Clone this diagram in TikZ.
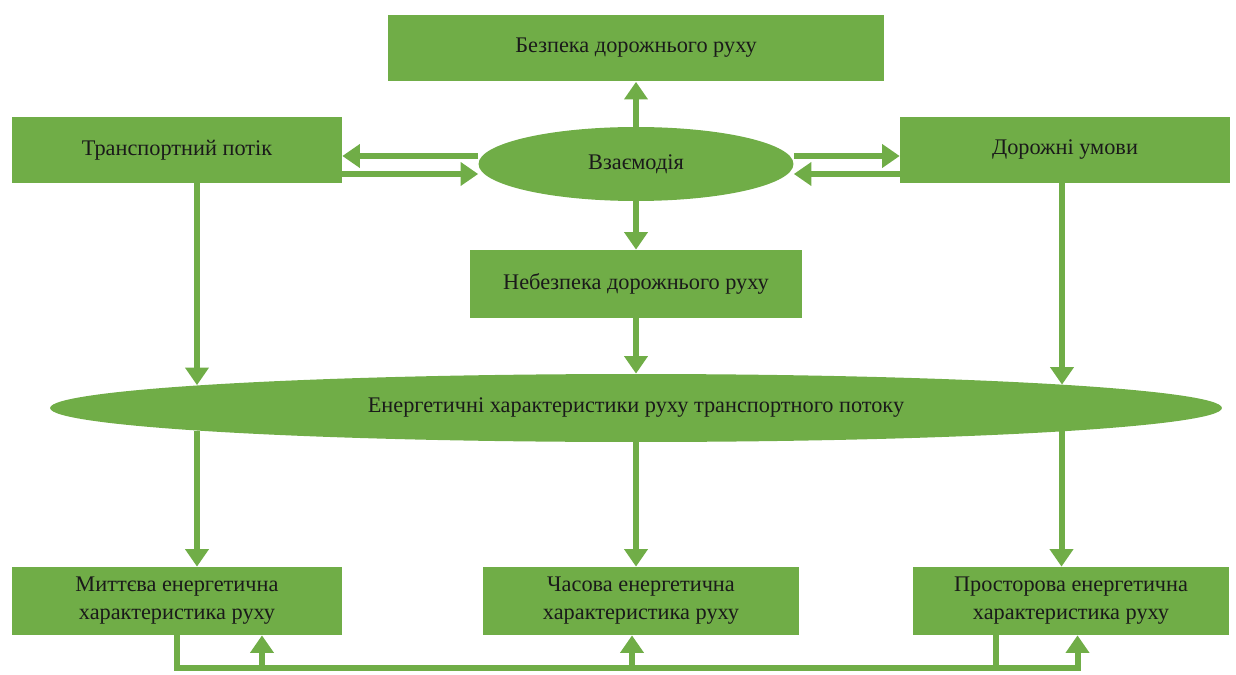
\documentclass[tikz,border=0pt]{standalone}
\usepackage{fontspec}
\setmainfont{Liberation Serif}
\usetikzlibrary{arrows.meta,shapes.geometric}
\definecolor{leaf}{HTML}{70AD47}
\definecolor{ink}{HTML}{1A1A1A}
\begin{document}
\begin{tikzpicture}[x=0.02cm,y=-0.02cm,
  box/.style={rectangle, fill=leaf, text=ink, align=center, inner sep=0pt,
    font=\fontsize{12.7}{16}\selectfont},
  oval/.style={ellipse, fill=leaf, text=ink, inner sep=0pt,
    font=\fontsize{12.7}{16}\selectfont},
  arr/.style={draw=leaf, line width=3.4pt, -{Triangle[length=10pt,width=13pt]}}]
\useasboundingbox (0,0) rectangle (1236,675);

\node[box, minimum width=9.94cm, minimum height=1.34cm] (bz) at (636,48) {Безпека дорожнього руху};
\node[box, minimum width=6.6cm, minimum height=1.32cm] (tp) at (177,150) {Транспортний потік};
\node[box, minimum width=6.6cm, minimum height=1.32cm] (du) at (1065,150) {Дорожні умови};
\node[oval, minimum width=6.3cm, minimum height=1.48cm] (vz) at (636,164) {Взаємодія};
\node[box, minimum width=6.64cm, minimum height=1.36cm] (nb) at (636,284) {Небезпека дорожнього руху};
\node[oval, minimum width=23.44cm, minimum height=1.36cm] (en) at (636,408) {Енергетичні характеристики руху транспортного потоку};

\node[box, minimum width=6.6cm, minimum height=1.36cm] (lb) at (177,601) {Миттєва енергетична\\характеристика руху};
\node[box, minimum width=6.34cm, minimum height=1.36cm] (cb) at (641,601) {Часова енергетична\\характеристика руху};
\node[box, minimum width=6.34cm, minimum height=1.36cm] (rb) at (1071,601) {Просторова енергетична\\характеристика руху};

\coordinate (base) at (632,668);

\draw[arr] (vz.north) -- (bz.south);
\draw[arr] (vz.south) -- (nb.north);
\draw[arr] (nb.south) -- (en.north);

\draw[arr] ([yshift=0.16cm]vz.west) -- ([yshift=0.16cm]vz.west -| tp.east);
\draw[arr] ([yshift=-0.2cm]vz.west -| tp.east) -- ([yshift=-0.2cm]vz.west);
\draw[arr] ([yshift=0.16cm]vz.east) -- ([yshift=0.16cm]vz.east -| du.west);
\draw[arr] ([yshift=-0.2cm]vz.east -| du.west) -- ([yshift=-0.2cm]vz.east);

\draw[arr, shorten >=-0.23cm] ([xshift=0.4cm]tp.south) -- ([xshift=0.4cm]tp.south |- en.north);
\draw[arr, shorten >=-0.22cm] ([xshift=-0.06cm]du.south) -- ([xshift=-0.06cm]du.south |- en.north);

\draw[arr, shorten <=-0.23cm] ([xshift=0.4cm]lb.north |- en.south) -- ([xshift=0.4cm]lb.north);
\draw[arr] (en.south) -- (en.south |- cb.north);
\draw[arr, shorten <=-0.22cm] ([xshift=-0.19cm]rb.north |- en.south) -- ([xshift=-0.19cm]rb.north);

\draw[arr] (lb.south) |- (base) -| ([xshift=0.13cm]rb.south);
\draw[arr] ([xshift=-1.51cm]rb.south) |- (base) -| ([xshift=1.7cm]lb.south);
\draw[arr] (base) -- (base |- cb.south);
\end{tikzpicture}
\end{document}
